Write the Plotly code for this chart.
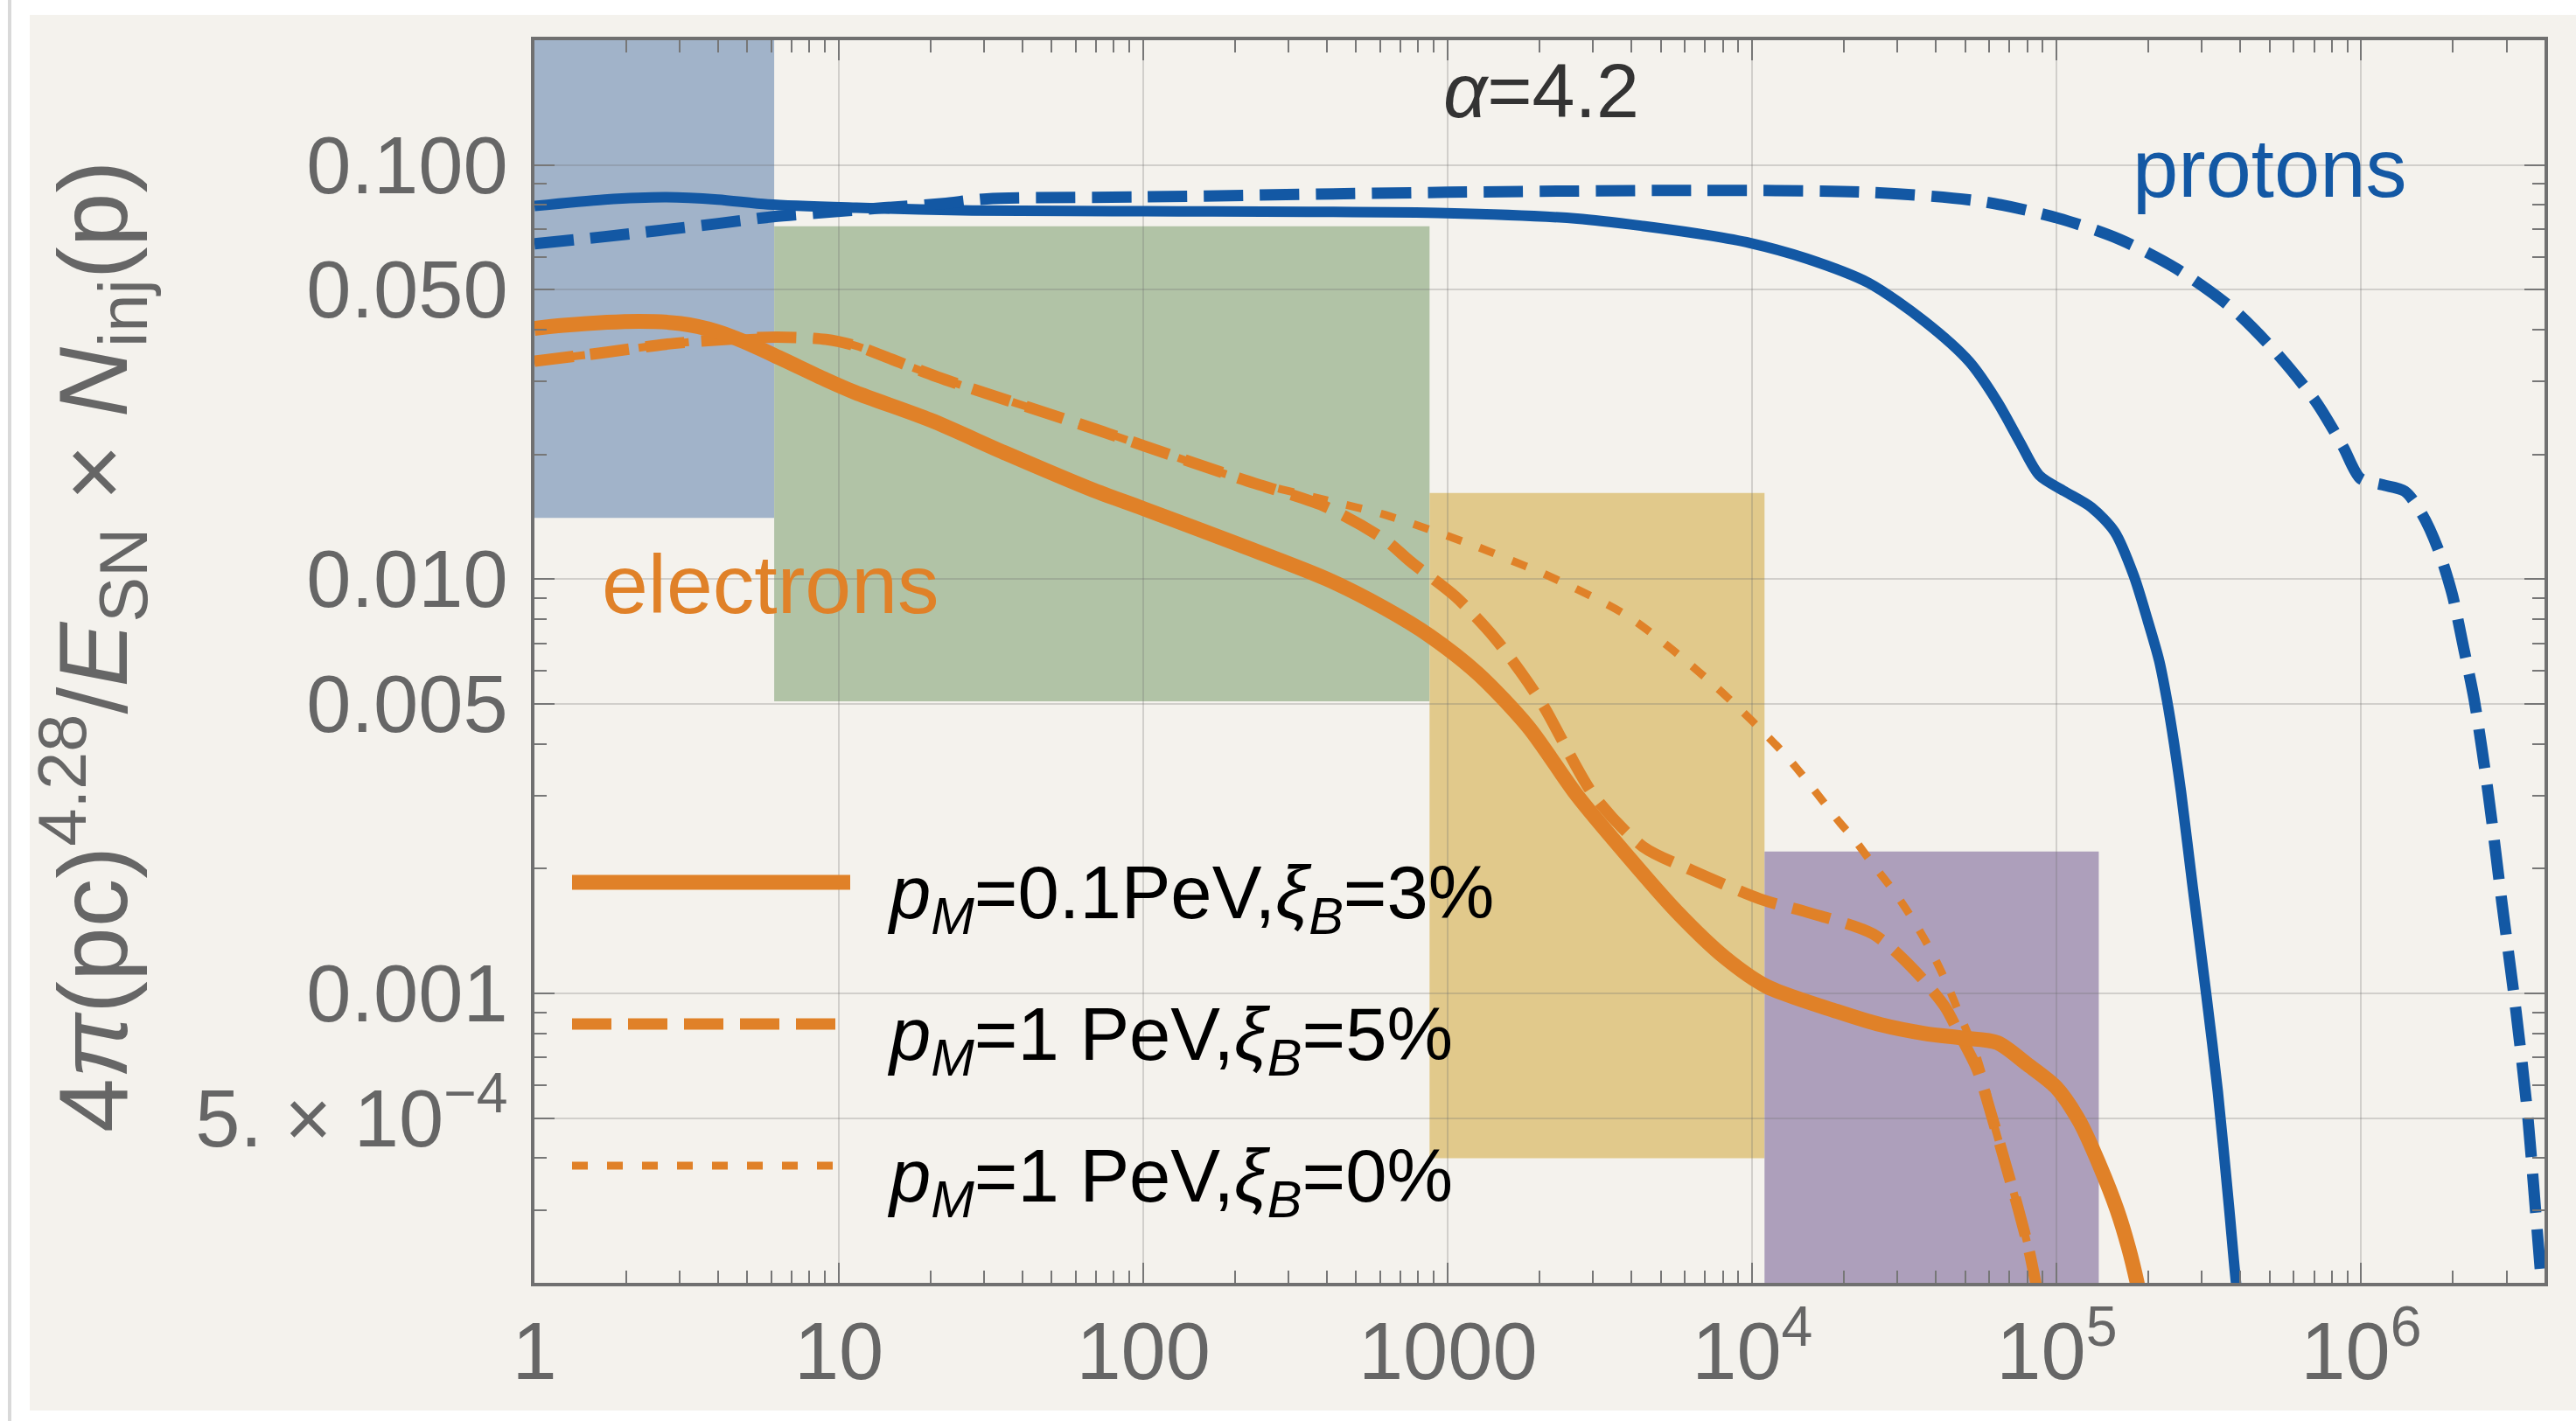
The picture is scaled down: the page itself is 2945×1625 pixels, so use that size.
import math
import plotly.graph_objects as go

# ---------------- spectra: momentum p (units of m c) vs 4pi (pc)^4.28 / E_SN * N_inj(p)
# protons, p_M = 0.1 PeV
p_prot_01 = [1, 1.7, 2.7, 4.0, 5.85, 11.4, 27.4, 100, 986, 2660, 4380, 7190, 9820, 15100,
             24100, 36800, 51600, 63800, 75700, 87700, 1.06e5, 1.30e5, 1.55e5, 1.79e5,
             1.99e5, 2.17e5, 2.30e5, 2.43e5, 2.56e5, 2.79e5, 3.10e5, 3.38e5, 3.68e5, 3.88e5,
             4.07e5]
n_prot_01 = [0.0796, 0.0825, 0.0836, 0.0825, 0.0803, 0.0788, 0.0776, 0.0773, 0.0765, 0.0742,
             0.0712, 0.0676, 0.0648, 0.0594, 0.0519, 0.0419, 0.0335, 0.0268, 0.0214, 0.0178,
             0.0163, 0.0149, 0.0130, 0.0102, 0.00794, 0.00635, 0.00512, 0.0040, 0.00306,
             0.00183, 0.00099, 0.00058, 0.000305, 0.0002, 0.00015]

# protons, p_M = 1 PeV
p_prot_1 = [1, 1.7, 2.58, 4.01, 6.08, 9.29, 14.1, 22.0, 30.6, 100, 1000, 6810, 2.41e4, 5.62e4,
            1.01e5, 1.61e5, 2.46e5, 3.76e5, 5.26e5, 7.10e5, 8.71e5, 9.93e5, 1.17e6, 1.39e6,
            1.58e6, 1.79e6, 1.99e6, 2.17e6, 2.35e6, 2.61e6, 2.90e6, 3.23e6, 3.52e6, 3.73e6,
            3.91e6, 4.07e6]
n_prot_1 = [0.0645, 0.0671, 0.0695, 0.0722, 0.075, 0.0769, 0.0788, 0.0807, 0.0828, 0.0837,
            0.0859, 0.0868, 0.0859, 0.0817, 0.0744, 0.0661, 0.0563, 0.0451, 0.0352, 0.0268,
            0.0209, 0.0175, 0.0169, 0.0163, 0.0144, 0.0118, 0.0092, 0.00682, 0.00512, 0.00306,
            0.00165, 0.000895, 0.00051, 0.000305, 0.0002, 0.00015]

# electrons, p_M = 0.1 PeV, xi_B = 3%
p_ele_a = [1, 1.245, 2.21, 3.02, 3.94, 4.90, 6.50, 9.06, 11.35, 20.0, 35.5, 68.5, 100, 207,
           401, 621, 871, 1259, 1837, 2661, 3864, 5623, 8128, 11120, 19010, 26420, 36810,
           48980, 63830, 79800, 99300, 118900, 138400, 157800, 172200, 183700, 195000]
n_ele_a = [0.0403, 0.041, 0.0419, 0.0414, 0.0397, 0.0374, 0.034, 0.0303, 0.0282, 0.0242,
           0.0201, 0.0164, 0.0148, 0.0121, 0.0100, 0.0085, 0.0073, 0.0059, 0.0044, 0.0030,
           0.00216, 0.00158, 0.00122, 0.00104, 0.000904, 0.00084, 0.0008, 0.00078, 0.00076,
           0.000675, 0.000594, 0.00049, 0.000384, 0.0003, 0.000243, 0.0002, 0.00016]

# electrons, p_M = 1 PeV, xi_B = 5%
p_ele_b = [1, 1.73, 2.70, 4.21, 6.25, 9.06, 11.35, 14.1, 21.0, 68.5, 100, 207, 401, 621, 757,
           1062, 1419, 1754, 2075, 3020, 4375, 6353, 10840, 15140, 24950, 33960, 42850, 47970,
           54830, 61240, 68080, 74820, 81470, 85310, 91200]
n_ele_b = [0.0336, 0.0353, 0.0369, 0.0379, 0.0384, 0.0379, 0.0366, 0.0345, 0.0308, 0.0231,
           0.0210, 0.0175, 0.0149, 0.01245, 0.0110, 0.00906, 0.00724, 0.0059, 0.0049, 0.0030,
           0.00226, 0.00198, 0.00168, 0.00157, 0.00139, 0.00114, 0.00093, 0.000795, 0.000654,
           0.000504, 0.000384, 0.000301, 0.000236, 0.0002, 0.00016]

# electrons, p_M = 1 PeV, xi_B = 0%
p_ele_c = [1, 1.73, 2.70, 4.21, 6.25, 9.06, 11.35, 14.1, 21.0, 68.5, 100, 207, 401, 621, 1202,
           1791, 2070, 3908, 7379, 12850, 19500, 21280, 24770, 29240, 33810, 38550, 43450,
           47970, 53700, 58210, 61240, 68080, 74820, 81470, 85310, 91200]
n_ele_c = [0.0336, 0.0353, 0.0369, 0.0379, 0.0384, 0.0379, 0.0366, 0.0345, 0.0308, 0.0231,
           0.0210, 0.0175, 0.0155, 0.0143, 0.0121, 0.01076, 0.0103, 0.00813, 0.0056, 0.00376,
           0.00257, 0.00239, 0.00206, 0.00176, 0.0015, 0.00127, 0.00106, 0.00089, 0.00073,
           0.0006, 0.000504, 0.000384, 0.000301, 0.000236, 0.0002, 0.00016]

# shaded momentum bands
band_p_lo = [1, 6.13, 871, 10970]
band_p_hi = [6.13, 871, 10970, 137400]
band_n_lo = [0.01405, 0.00507, 0.0004, 0.0002]
band_n_hi = [0.2, 0.0711, 0.01615, 0.0022]
band_colors = ["#a1b3c9", "#b1c3a6", "#e1c98b", "#ad9fbb"]

# axes
x_range = [1, 4.0e6]
y_range = [2.0e-4, 0.2]
x_major = [1, 10, 100, 1000, 1e4, 1e5, 1e6]
x_major_text = ["1", "10", "100", "1000", "10<sup>4</sup>", "10<sup>5</sup>", "10<sup>6</sup>"]
y_major = [5e-4, 0.001, 0.005, 0.01, 0.05, 0.1]
y_major_text = ["5. \u00d7 10<sup>\u22124</sup>", "0.001", "0.005", "0.010", "0.050", "0.100"]
x_minor = [m * 10 ** k for k in range(0, 7) for m in range(2, 10) if m * 10 ** k < x_range[1]]
y_minor = [m * 10.0 ** k for k in range(-4, 0) for m in range(2, 10)
           if y_range[0] <= m * 10.0 ** k <= y_range[1] and m != 5]

legend_labels = [
    "<i>p</i><sub><i>M</i></sub>=0.1PeV,<i>\u03be</i><sub><i>B</i></sub>=3%",
    "<i>p</i><sub><i>M</i></sub>=1 PeV,<i>\u03be</i><sub><i>B</i></sub>=5%",
    "<i>p</i><sub><i>M</i></sub>=1 PeV,<i>\u03be</i><sub><i>B</i></sub>=0%",
]

ORANGE = "#e08128"
BLUE = "#1358a4"
GREY_TXT = "#666666"
FONT = "Liberation Sans, Arial, sans-serif"
DASH = "45px,19px"
DOT = "18px,22px"

W, H = 2945, 1625
M_L, M_R, M_T, M_B = 611, 36, 46, 158
PW, PH = W - M_L - M_R, H - M_T - M_B


def px_to_paper(px, py):
    return (px - M_L) / PW, (H - M_B - py) / PH


fig = go.Figure()

line_style = dict(shape="spline", smoothing=0.8)
fig.add_trace(go.Scatter(x=p_prot_01, y=n_prot_01, mode="lines",
                         line=dict(color=BLUE, width=12, **line_style)))
fig.add_trace(go.Scatter(x=p_prot_1, y=n_prot_1, mode="lines",
                         line=dict(color=BLUE, width=13, dash=DASH, **line_style)))
fig.add_trace(go.Scatter(x=p_ele_c, y=n_ele_c, mode="lines",
                         line=dict(color=ORANGE, width=9, dash=DOT, **line_style)))
fig.add_trace(go.Scatter(x=p_ele_b, y=n_ele_b, mode="lines",
                         line=dict(color=ORANGE, width=13, dash=DASH, **line_style)))
fig.add_trace(go.Scatter(x=p_ele_a, y=n_ele_a, mode="lines",
                         line=dict(color=ORANGE, width=17, **line_style)))

shapes = []
# paper sheet behind the figure
x0, y0 = px_to_paper(34, 1613)
x1, y1 = px_to_paper(W + 5, 17)
shapes.append(dict(type="rect", xref="paper", yref="paper", x0=x0, x1=x1, y0=y0, y1=y1,
                   fillcolor="#f4f2ed", line=dict(width=0), layer="below"))
lx, ly0 = px_to_paper(11, H + 5)
_, ly1 = px_to_paper(11, -5)
shapes.append(dict(type="line", xref="paper", yref="paper", x0=lx, x1=lx, y0=ly0, y1=ly1,
                   line=dict(color="#d9d9d9", width=4), layer="below"))

# shaded bands, placed in data coordinates
for plo, phi, nlo, nhi, col in zip(band_p_lo, band_p_hi, band_n_lo, band_n_hi, band_colors):
    shapes.append(dict(type="rect", xref="x", yref="y", x0=plo, x1=phi, y0=nlo, y1=nhi,
                       fillcolor=col, line=dict(width=0), layer="below"))

# legend keys
legend_rows_y = [1009, 1171, 1333]
legend_dash = ["solid", DASH, DOT]
legend_width = [17, 13, 9]
legend_end = [972, 960, 956]
for ry, dsh, lw, xe in zip(legend_rows_y, legend_dash, legend_width, legend_end):
    ax0, ay = px_to_paper(654, ry)
    ax1, _ = px_to_paper(xe, ry)
    shapes.append(dict(type="line", xref="paper", yref="paper", x0=ax0, x1=ax1, y0=ay, y1=ay,
                       line=dict(color=ORANGE, width=lw, dash=dsh), layer="above"))

annotations = []
for ry, lab in zip(legend_rows_y, legend_labels):
    tx, ty = px_to_paper(1012, ry + 18)
    annotations.append(dict(xref="paper", yref="paper", x=tx, y=ty, text=lab, showarrow=False,
                            xanchor="left", yanchor="middle",
                            font=dict(family=FONT, size=85, color="black")))

ax, ay = px_to_paper(1762, 103)
annotations.append(dict(xref="paper", yref="paper", x=ax, y=ay, text="<i>\u03b1</i>=4.2",
                        showarrow=False, xanchor="center", yanchor="middle",
                        font=dict(family=FONT, size=88, color="#333333")))
ax, ay = px_to_paper(2595, 192)
annotations.append(dict(xref="paper", yref="paper", x=ax, y=ay, text="protons",
                        showarrow=False, xanchor="center", yanchor="middle",
                        font=dict(family=FONT, size=94, color=BLUE)))
ax, ay = px_to_paper(880, 668)
annotations.append(dict(xref="paper", yref="paper", x=ax, y=ay, text="electrons",
                        showarrow=False, xanchor="center", yanchor="middle",
                        font=dict(family=FONT, size=95, color=ORANGE)))
ax, ay = px_to_paper(106, 740)
annotations.append(dict(xref="paper", yref="paper", x=ax, y=ay,
                        text="4<i>\u03c0</i>(pc)<sup>4.28</sup>/<i>E</i><sub>SN</sub> \u00d7 "
                             "<i>N</i><sub>inj</sub>(p)",
                        textangle=-90, showarrow=False, xanchor="center", yanchor="middle",
                        font=dict(family=FONT, size=111, color=GREY_TXT)))

axis_common = dict(
    type="log", showline=True, linecolor="#707070", linewidth=4, mirror="ticks",
    ticks="inside", ticklen=23, tickwidth=2, tickcolor="#777777",
    showgrid=True, gridcolor="rgba(110,110,110,0.26)", gridwidth=2, zeroline=False,
    tickfont=dict(family=FONT, size=92, color=GREY_TXT),
)

fig.update_layout(
    width=W, height=H,
    margin=dict(l=M_L, r=M_R, t=M_T, b=M_B, pad=0),
    paper_bgcolor="white", plot_bgcolor="rgba(0,0,0,0)",
    showlegend=False,
    shapes=shapes, annotations=annotations,
    xaxis=dict(axis_common, range=[math.log10(v) for v in x_range],
               tickmode="array", tickvals=x_major, ticktext=x_major_text,
               ticklabelstandoff=-4,
               minor=dict(tickmode="array", tickvals=x_minor, ticks="inside", ticklen=14,
                          tickwidth=1.5, tickcolor="#777777", showgrid=False)),
    yaxis=dict(axis_common, range=[math.log10(v) for v in y_range],
               tickmode="array", tickvals=y_major, ticktext=y_major_text,
               ticklabelstandoff=8,
               minor=dict(tickmode="array", tickvals=y_minor, ticks="inside", ticklen=14,
                          tickwidth=1.5, tickcolor="#777777", showgrid=False)),
)

fig.write_html("out.html")
